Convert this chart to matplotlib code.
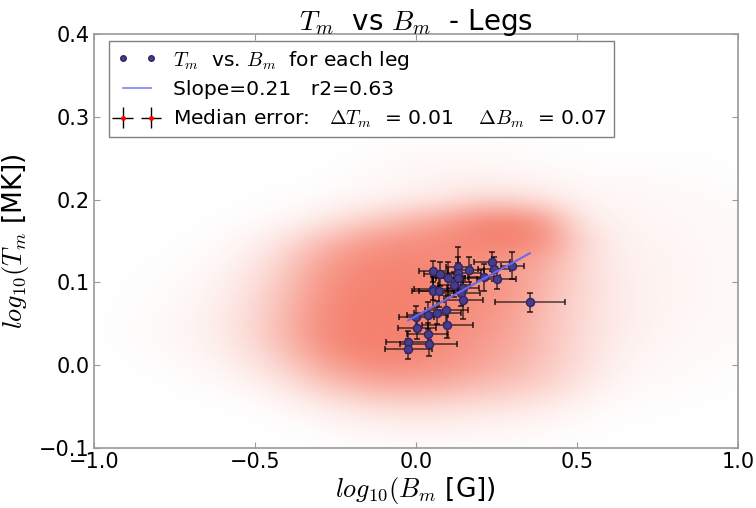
import numpy as np
import matplotlib
matplotlib.use("Agg")
import matplotlib.pyplot as plt
from matplotlib.lines import Line2D
from matplotlib.colors import to_rgb

plt.rcParams['mathtext.fontset'] = 'cm'
plt.rcParams['font.family'] = ['DejaVu Sans']

# ---- per-leg points (log10 B_m, log10 T_m) with errors ----
leg_B = [0.054, 0.075, 0.101, 0.132, 0.132, 0.132, 0.165, 0.119, 0.147, 0.054,
         0.054, 0.071, 0.140, 0.147, 0.212, 0.236, 0.243, 0.251, 0.300, 0.354,
         0.095, 0.067, 0.036, 0.001, 0.098, 0.003, 0.036, -0.024, 0.040, -0.024]
leg_T = [0.113, 0.110, 0.105, 0.118, 0.111, 0.105, 0.115, 0.097, 0.093, 0.092,
         0.089, 0.090, 0.087, 0.078, 0.106, 0.125, 0.116, 0.104, 0.120, 0.076,
         0.067, 0.063, 0.060, 0.058, 0.048, 0.045, 0.038, 0.028, 0.025, 0.019]
leg_Berr = [0.045, 0.05, 0.05, 0.04, 0.07, 0.07, 0.045, 0.05, 0.05, 0.06,
            0.065, 0.06, 0.06, 0.06, 0.05, 0.057, 0.05, 0.06, 0.037, 0.108,
            0.067, 0.072, 0.065, 0.055, 0.078, 0.06, 0.065, 0.07, 0.089, 0.073]
leg_Terr = [0.013, 0.015, 0.02, 0.025, 0.02, 0.018, 0.015, 0.015, 0.014, 0.014,
            0.02, 0.02, 0.016, 0.022, 0.016, 0.012, 0.014, 0.012, 0.016, 0.0115,
            0.016, 0.014, 0.016, 0.013, 0.015, 0.014, 0.013, 0.013, 0.014, 0.012]

fit_slope = 0.215
fit_intercept = 0.059
slope_label = 0.21
r2_label = 0.63
median_dT = 0.01
median_dB = 0.07

# ---- background pixel cloud: density estimated on a grid ----
cloud_x = [-1.0, -0.9, -0.8, -0.7, -0.6, -0.5, -0.4, -0.3, -0.2, -0.1, 0.0,
           0.1, 0.2, 0.3, 0.4, 0.5, 0.6, 0.7, 0.8, 0.9, 1.0]
cloud_y_top_to_bottom = [0.275, 0.25, 0.225, 0.2, 0.175, 0.15, 0.125, 0.1, 0.075,
                         0.05, 0.025, 0.0, -0.025, -0.05, -0.075, -0.1]
cloud_density = [
    [0, 0, 0, 0, 0, 0, 0, 0, 0, 0.01, 0.02, 0.02, 0.02, 0.01, 0, 0, 0, 0, 0, 0, 0],
    [0, 0, 0, 0, 0, 0, 0, 0, 0.01, 0.03, 0.05, 0.05, 0.05, 0.04, 0.03, 0.01, 0.01, 0.01, 0.01, 0.01, 0],
    [0, 0, 0, 0, 0, 0, 0, 0.01, 0.03, 0.05, 0.08, 0.1, 0.1, 0.08, 0.07, 0.05, 0.04, 0.04, 0.03, 0.02, 0.01],
    [0, 0, 0, 0, 0, 0.01, 0.02, 0.04, 0.07, 0.1, 0.15, 0.2, 0.3, 0.3, 0.2, 0.1, 0.07, 0.06, 0.05, 0.04, 0.03],
    [0, 0, 0, 0, 0.01, 0.03, 0.06, 0.15, 0.3, 0.45, 0.6, 0.75, 0.95, 1.0, 0.8, 0.25, 0.1, 0.07, 0.06, 0.05, 0.04],
    [0, 0, 0, 0.01, 0.04, 0.1, 0.25, 0.5, 0.7, 0.85, 0.9, 0.95, 1.0, 1.0, 0.9, 0.4, 0.15, 0.09, 0.07, 0.05, 0.04],
    [0, 0, 0.01, 0.03, 0.07, 0.18, 0.4, 0.7, 0.9, 0.95, 0.95, 0.9, 0.85, 0.8, 0.65, 0.35, 0.16, 0.1, 0.08, 0.06, 0.04],
    [0, 0.01, 0.02, 0.05, 0.11, 0.25, 0.5, 0.8, 0.95, 1.0, 1.0, 0.95, 0.9, 0.8, 0.6, 0.35, 0.18, 0.11, 0.08, 0.06, 0.04],
    [0, 0.01, 0.03, 0.07, 0.14, 0.3, 0.55, 0.85, 1.0, 1.0, 1.0, 0.95, 0.88, 0.78, 0.55, 0.33, 0.18, 0.11, 0.08, 0.06, 0.04],
    [0, 0.02, 0.04, 0.09, 0.17, 0.33, 0.6, 0.9, 1.0, 1.0, 1.0, 0.92, 0.85, 0.72, 0.52, 0.32, 0.18, 0.11, 0.07, 0.05, 0.04],
    [0, 0.02, 0.04, 0.08, 0.15, 0.3, 0.55, 0.85, 1.0, 1.0, 0.98, 0.9, 0.8, 0.68, 0.5, 0.3, 0.16, 0.09, 0.06, 0.05, 0.03],
    [0, 0, 0.02, 0.04, 0.09, 0.2, 0.4, 0.65, 0.85, 0.92, 0.9, 0.82, 0.72, 0.6, 0.45, 0.28, 0.13, 0.07, 0.05, 0.03, 0.02],
    [0, 0, 0, 0.02, 0.04, 0.09, 0.2, 0.4, 0.55, 0.65, 0.65, 0.6, 0.52, 0.45, 0.35, 0.2, 0.09, 0.04, 0.03, 0.02, 0.01],
    [0, 0, 0, 0, 0, 0.02, 0.06, 0.14, 0.22, 0.28, 0.3, 0.28, 0.24, 0.2, 0.15, 0.08, 0.03, 0.02, 0.01, 0, 0],
    [0, 0, 0, 0, 0, 0, 0.01, 0.04, 0.07, 0.09, 0.1, 0.1, 0.08, 0.07, 0.05, 0.03, 0.01, 0, 0, 0, 0],
    [0, 0, 0, 0, 0, 0, 0, 0, 0.02, 0.03, 0.04, 0.04, 0.03, 0.02, 0.01, 0, 0, 0, 0, 0, 0],
]

fig = plt.figure(figsize=(7.56, 5.08), dpi=100, facecolor='white')
ax = fig.add_axes([0.1243, 0.1187, 0.8517, 0.8143])

# cloud as RGBA image
dens = np.clip(np.array(cloud_density, dtype=float), 0, 1)
rgb = to_rgb('#F4735F')
img = np.zeros(dens.shape + (4,))
img[..., 0], img[..., 1], img[..., 2] = rgb
img[..., 3] = dens * 0.9
dx = cloud_x[1] - cloud_x[0]
dy = cloud_y_top_to_bottom[0] - cloud_y_top_to_bottom[1]
ax.imshow(img, origin='upper', aspect='auto', interpolation='bicubic',
          extent=[cloud_x[0] - dx / 2, cloud_x[-1] + dx / 2,
                  cloud_y_top_to_bottom[-1] - dy / 2, cloud_y_top_to_bottom[0] + dy / 2],
          zorder=0)

# per-leg points with error bars
ax.errorbar(leg_B, leg_T, xerr=leg_Berr, yerr=leg_Terr, fmt='none',
            ecolor='black', alpha=0.7, elinewidth=1.1, capsize=2.2, capthick=1.3, zorder=2)
ax.plot(leg_B, leg_T, 'o', color='#483D8B', markeredgecolor='#2E2666',
        markersize=5.8, zorder=3)

# fit line
bx = np.array([min(leg_B), max(leg_B)])
ax.plot(bx, fit_slope * bx + fit_intercept, color='#6A6AE8', lw=1.5, zorder=4)

# legend proxies
h1 = Line2D([], [], marker='o', linestyle='none', color='#483D8B',
            markeredgecolor='#2E2666', markersize=4)
h2 = Line2D([], [], color='#8080F0', lw=1.2)
h3 = ax.errorbar([], [], xerr=[], yerr=[], fmt='.', color='red', ecolor='black',
                 markersize=5, elinewidth=1.0, capsize=2, capthick=1.0)
leg = ax.legend([h1, h2, h3],
                [r'$T_m$  vs. $B_m$  for each leg',
                 'Slope=%.2f   r2=%.2f' % (slope_label, r2_label),
                 r'Median error:   $\Delta T_m$  = %.2f    $\Delta B_m$  = %.2f' % (median_dT, median_dB)],
                loc='upper left', bbox_to_anchor=(0.024, 0.982), numpoints=2,
                fontsize=14.6, fancybox=False, framealpha=1, handlelength=2.0,
                borderpad=0.35, labelspacing=0.42, handletextpad=0.8, borderaxespad=0)
leg.get_frame().set_edgecolor('#808080')
leg.get_frame().set_linewidth(1.0)
leg.set_zorder(10)

ax.set_xlim(-1.0, 1.0)
ax.set_ylim(-0.1, 0.4)
ax.set_xticks([-1.0, -0.5, 0.0, 0.5, 1.0])
ax.set_yticks([-0.1, 0.0, 0.1, 0.2, 0.3, 0.4])
ax.set_xticklabels(['\u22121.0', '\u22120.5', '0.0', '0.5', '1.0'])
ax.set_yticklabels(['\u22120.1', '0.0', '0.1', '0.2', '0.3', '0.4'])
ax.tick_params(direction='in', top=True, right=True, labelsize=15,
               length=4, color='#999999', pad=3)
for s in ax.spines.values():
    s.set_color('#999999')
    s.set_linewidth(1.2)

ax.set_title(r'$T_m$  vs $B_m$  - Legs', fontsize=20, pad=3)
ax.set_xlabel(r'$log_{10}(B_m$ [G])', fontsize=19, labelpad=2)
ax.set_ylabel(r'$log_{10}(T_m$ [MK])', fontsize=19, labelpad=6)

fig.savefig('out.png', dpi=100, facecolor='white')
